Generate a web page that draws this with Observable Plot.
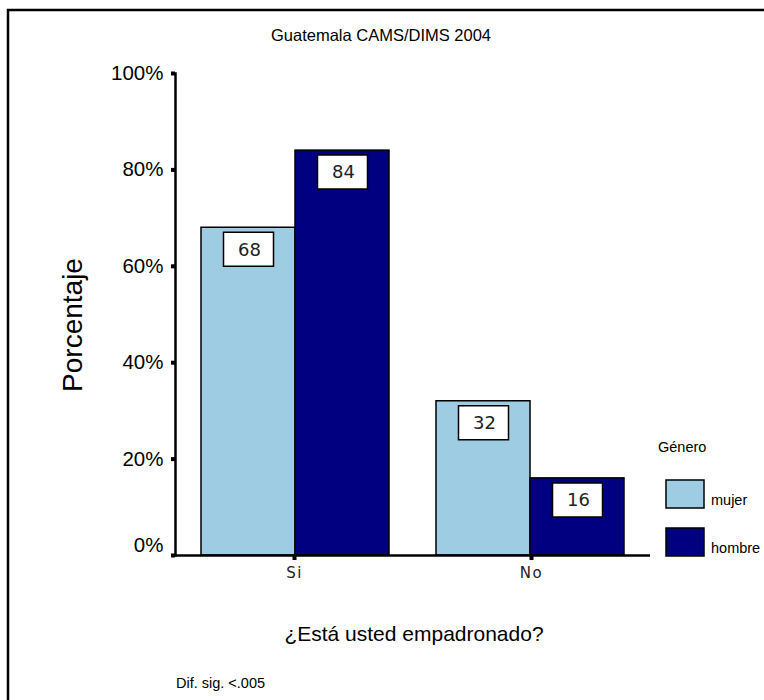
<!DOCTYPE html>
<html><head><meta charset="utf-8">
<script src="https://cdn.jsdelivr.net/npm/d3@7"></script>
<script src="https://cdn.jsdelivr.net/npm/@observablehq/plot@0.6"></script>
<style>
body{margin:0;background:#fff;}
#wrap{position:relative;width:764px;height:700px;overflow:hidden;background:#fff;}
#wrap svg{position:absolute;left:0;top:0;font-family:"Liberation Sans",Arial,sans-serif;background:transparent;}
#wrap svg [aria-label^="x-axis tick label"] text{letter-spacing:1.5px;}
</style></head>
<body><div id="wrap"></div>
<script>
const categories = ["Si", "No"];
const genders = ["mujer", "hombre"];
const mujer = [68, 32];
const hombre = [84, 16];
const yTicks = [0, 20, 40, 60, 80, 100];
const colors = ["#9ecde3", "#000080"];
const subtitle = "Guatemala CAMS/DIMS 2004";
const yTitle = "Porcentaje";
const xTitle = "¿Está usted empadronado?";
const note = "Dif. sig. <.005";
const legendTitle = "Género";

const data = categories.flatMap((c, i) => [
  {cat: c, g: genders[0], v: mujer[i]},
  {cat: c, g: genders[1], v: hombre[i]}
]);

const dims = {width: 764, height: 700, marginLeft: 175, marginRight: 114, marginTop: 73, marginBottom: 145};
const bandPad = {paddingInner: 0.2, paddingOuter: 0.11};
const boxSymbol = {draw(ctx) { ctx.rect(-25, -17, 50, 34); }};
const pct = d => d + "%";

// bars (faceted by category, grouped by gender)
const bars = Plot.plot({
  ...dims,
  style: {background: "transparent"},
  facet: {data, x: "cat"},
  fx: {domain: categories, ...bandPad, axis: null},
  x: {domain: genders, paddingInner: 0, paddingOuter: 0, axis: null},
  y: {domain: [0, 100], axis: null},
  color: {domain: genders, range: colors},
  marks: [
    Plot.barY(data, {x: "g", y: "v", fill: "g", stroke: "#000", strokeWidth: 1.5}),
    Plot.dot(data, {x: "g", y: "v", dy: 21.5, symbol: boxSymbol, fill: "#fff", stroke: "#000", strokeWidth: 1.5}),
    Plot.text(data, {x: "g", y: "v", dy: 22, dx: 1, text: d => String(d.v), fill: "#222", fontSize: 18, fontFamily: "DejaVu Sans", style: "letter-spacing:2px"})
  ]
});

// axes overlay (same frame, category band scale)
const axes = Plot.plot({
  ...dims,
  style: {background: "transparent"},
  x: {domain: categories, ...bandPad},
  y: {domain: [0, 100]},
  marks: [
    Plot.ruleY([0], {stroke: "#000", strokeWidth: 2.5}),
    Plot.frame({anchor: "left", stroke: "#000", strokeWidth: 2.5}),
    Plot.axisY({ticks: yTicks, tickFormat: d => d ? pct(d) : "", tickSize: 4, tickPadding: 8, strokeWidth: 4, fontSize: 20.5, fontFamily: "Liberation Sans", fill: "#000", label: null}),
    Plot.axisY({ticks: yTicks.slice(0, 1), tickFormat: pct, tickSize: 0, tickPadding: 12, dy: -10, fontSize: 20.5, fontFamily: "Liberation Sans", fill: "#000", label: null}),
    Plot.axisX({tickSize: 5, tickPadding: 7, strokeWidth: 4, fontSize: 15, fontFamily: "DejaVu Sans", fill: "#222", label: null})
  ]
});

const wrap = document.getElementById("wrap");
wrap.appendChild(bars);
wrap.appendChild(axes);

const svg = d3.select(axes);
const col = bars.scale("color");
// frame border
svg.append("path").attr("d", "M8,700V10H764").attr("fill", "none").attr("stroke", "#000").attr("stroke-width", 2.5);
// texts
const txt = (x, y, s, size, opts = {}) => {
  const t = svg.append("text").attr("x", x).attr("y", y).text(s)
    .attr("font-family", "'Liberation Sans',Arial,sans-serif").attr("font-size", size).attr("fill", "#000")
    .attr("dominant-baseline", "central").attr("text-anchor", opts.anchor || "middle");
  if (opts.rotate) t.attr("transform", `rotate(${opts.rotate},${x},${y})`);
  return t;
};
txt(381, 35, subtitle, 16.5);
txt(72, 325, yTitle, 28, {rotate: -90});
txt(414, 633, xTitle, 21);
txt(176, 683, note, 14.5, {anchor: "start"});
txt(658, 447, legendTitle, 14.5, {anchor: "start"});
col.domain.forEach((g, i) => {
  const y0 = 480 + i * 48;
  svg.append("rect").attr("x", 666).attr("y", y0).attr("width", 38).attr("height", 28)
    .attr("fill", col.range[i]).attr("stroke", "#000").attr("stroke-width", 1.5);
  txt(711, y0 + 20, g, 14.5, {anchor: "start"});
});
</script>
</body></html>
